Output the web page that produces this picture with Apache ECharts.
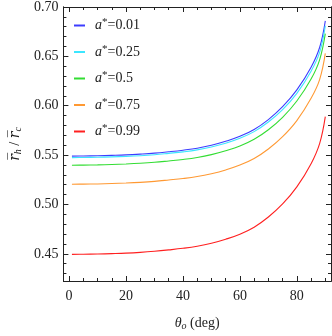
<!DOCTYPE html>
<html><head><meta charset="utf-8">
<script src="https://cdn.jsdelivr.net/npm/echarts@6/dist/echarts.min.js"></script>
<style>html,body{margin:0;padding:0;background:#fff}#c{width:332px;height:336px}</style>
</head><body><div id="c"></div>
<script>
var thetas  = [1,5,10,15,20,25,30,35,40,45,50,55,60,65,70,75,80,85,88,90];
var aBlue   = [0.5490,0.5491,0.5493,0.5497,0.5502,0.5510,0.5520,0.5534,0.5550,0.5570,0.5600,0.5640,0.5690,0.5760,0.5860,0.5990,0.6160,0.6390,0.6590,0.6860];
var aCyan   = [0.5475,0.5476,0.5478,0.5482,0.5487,0.5494,0.5504,0.5518,0.5533,0.5553,0.5582,0.5620,0.5670,0.5738,0.5835,0.5960,0.6125,0.6350,0.6540,0.6810];
var aGreen  = [0.5398,0.5399,0.5401,0.5405,0.5410,0.5417,0.5427,0.5441,0.5456,0.5476,0.5505,0.5544,0.5592,0.5660,0.5757,0.5883,0.6048,0.6270,0.6465,0.6730];
var aOrange = [0.5205,0.5206,0.5208,0.5212,0.5217,0.5224,0.5234,0.5248,0.5263,0.5283,0.5312,0.5350,0.5399,0.5466,0.5562,0.5687,0.5850,0.6075,0.6265,0.6530];
var aRed    = [0.4495,0.4496,0.4498,0.4502,0.4507,0.4515,0.4526,0.4540,0.4556,0.4577,0.4607,0.4648,0.4699,0.4770,0.4873,0.5005,0.5178,0.5413,0.5617,0.5890];
var seriesNames = ['0.01','0.25','0.5','0.75','0.99'];
var seriesColors = ['#3c3cff','#3ce6ff','#33dd33','#ff9933','#ff2020'];
var xMajor = [0,20,40,60,80];
var xMinor = [0,5,10,15,20,25,30,35,40,45,50,55,60,65,70,75,80,85,90];
var yMajor = [0.45,0.50,0.55,0.60,0.65,0.70];
var yMinor = [0.43,0.44,0.45,0.46,0.47,0.48,0.49,0.50,0.51,0.52,0.53,0.54,0.55,0.56,0.57,0.58,0.59,0.60,0.61,0.62,0.63,0.64,0.65,0.66,0.67,0.68,0.69,0.70];

var allVals = [aBlue,aCyan,aGreen,aOrange,aRed];
var FONT = 'Liberation Serif';
var lineC = '#222';

function mkX(pos, labels, ticks, len, withName){
  var o = {type:'value', position:pos, gridIndex:0, min:-2, max:92,
    axisLine:{show:true, onZero:false, lineStyle:{color:lineC, width:1}},
    axisTick:{show:true, inside:true, length:len, customValues:ticks, lineStyle:{color:lineC}},
    axisLabel:{show:labels, customValues:xMajor, color:'#222', fontFamily:FONT, fontSize:14, margin:8},
    splitLine:{show:false}};
  if(withName){
    o.name = '{i|θ}{sub|o}{n| (deg)}';
    o.nameLocation = 'middle';
    o.nameGap = 34;
    o.nameTextStyle = {rich:{
      i:{fontFamily:FONT, fontStyle:'italic', fontSize:14, color:'#222'},
      sub:{fontFamily:FONT, fontStyle:'italic', fontSize:10, color:'#222', padding:[6,0,0,0]},
      n:{fontFamily:FONT, fontSize:14, color:'#222'}}};
  }
  return o;
}
function mkY(pos, labels, ticks, len, withName){
  var o = {type:'value', position:pos, gridIndex:0, min:0.4225, max:0.70,
    axisLine:{show:true, onZero:false, lineStyle:{color:lineC, width:1}},
    axisTick:{show:true, inside:true, length:len, customValues:ticks, lineStyle:{color:lineC}},
    axisLabel:{show:labels, customValues:yMajor, color:'#222', fontFamily:FONT, fontSize:14, margin:5,
      formatter:function(v){return v.toFixed(2);}},
    splitLine:{show:false}};
  if(withName){
    o.name = '{r|r̅}{sub|h}{n| / }{r|r̅}{sub|c}';
    o.nameLocation = 'middle';
    o.nameGap = 38;
    o.nameRotate = 90;
    o.nameTextStyle = {rich:{
      r:{fontFamily:'DejaVu Serif', fontStyle:'italic', fontSize:14, color:'#222'},
      sub:{fontFamily:FONT, fontStyle:'italic', fontSize:10, color:'#222', padding:[6,0,0,0]},
      n:{fontFamily:FONT, fontSize:14, color:'#222'}}};
  }
  return o;
}

var series = seriesNames.map(function(n,k){
  return {name:n, type:'line', xAxisIndex:0, yAxisIndex:0, showSymbol:false, symbol:'none',
    smooth:0.4, data: thetas.map(function(t,i){return [t, allVals[k][i]];}),
    lineStyle:{color:seriesColors[k], width:1.1}, itemStyle:{color:seriesColors[k]}, animation:false};
});

var chart = echarts.init(document.getElementById('c'), null, {renderer:'canvas'});
chart.setOption({
  animation:false,
  grid:{left:51, right:1, top:5, bottom:51, containLabel:false},
  xAxis:[mkX('bottom', true, xMajor, 5, true), mkX('bottom', false, xMinor, 3, false),
         mkX('top', false, xMajor, 5, false), mkX('top', false, xMinor, 3, false)],
  yAxis:[mkY('left', true, yMajor, 5, true), mkY('left', false, yMinor, 3, false),
         mkY('right', false, yMajor, 5, false), mkY('right', false, yMinor, 3, false)],
  legend:{show:true, orient:'vertical', left:69, top:12, itemWidth:11, itemHeight:2, itemGap:11,
    icon:'rect', data:seriesNames,
    formatter:function(n){return '{i|a}{s|*}{n|=' + n + '}';},
    textStyle:{padding:[0,0,0,5], rich:{
      i:{fontFamily:FONT, fontStyle:'italic', fontSize:14, color:'#222'},
      s:{fontFamily:FONT, fontSize:11, color:'#222', padding:[0,0,6,0]},
      n:{fontFamily:FONT, fontSize:14, color:'#222'}}}},
  series:series
});
</script></body></html>
